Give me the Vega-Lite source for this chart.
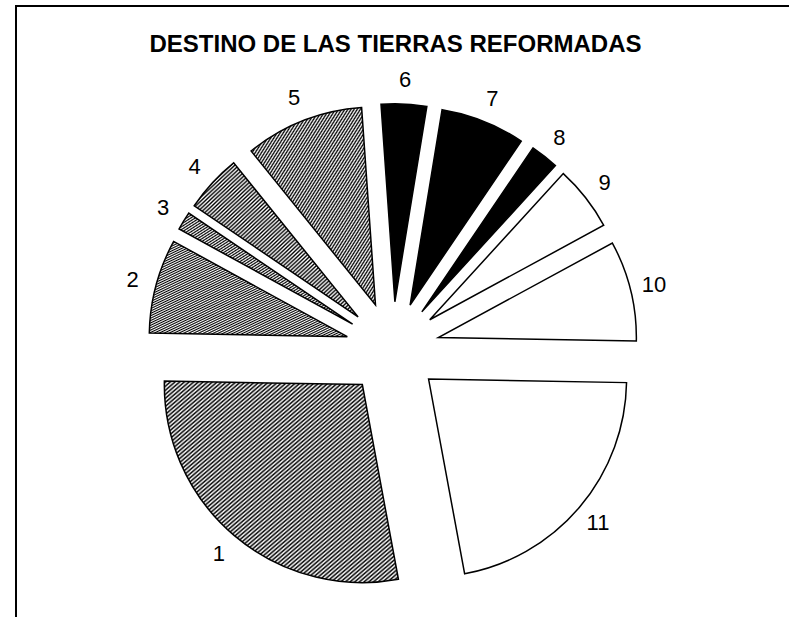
{
  "$schema": "https://vega.github.io/schema/vega-lite/v6.json",
  "width": 789,
  "height": 617,
  "autosize": "none",
  "padding": {"left": 16, "top": 6, "right": 0, "bottom": 0},
  "background": "white",
  "config": {"view": {"stroke": "black", "strokeWidth": 2}},
  "title": {"text": "DESTINO DE LAS TIERRAS REFORMADAS", "font": "Liberation Sans", "fontSize": 24, "fontWeight": "bold", "color": "black", "anchor": "middle", "frame": "group", "baseline": "alphabetic", "offset": 0, "dy": 70, "dx": -15},
  "data": {"values": [
    {"cat": 1, "pct": 28.2},
    {"cat": 2, "pct": 7.7},
    {"cat": 3, "pct": 1.5},
    {"cat": 4, "pct": 4.7},
    {"cat": 5, "pct": 9.7},
    {"cat": 6, "pct": 3.7},
    {"cat": 7, "pct": 6.9},
    {"cat": 8, "pct": 2.3},
    {"cat": 9, "pct": 5.3},
    {"cat": 10, "pct": 8.2},
    {"cat": 11, "pct": 21.8}
  ]},
  "transform": [
    {"stack": "pct", "groupby": [], "sort": [{"field": "cat", "order": "ascending"}], "as": ["v0", "v1"]},
    {"calculate": "(datum.v0 + datum.v1) / 2", "as": "vm"},
    {"calculate": "(169.5 + 3.6 * datum.vm) * PI / 180", "as": "mid"},
    {"calculate": "sin(datum.mid)", "as": "ex"},
    {"calculate": "cos(datum.mid)", "as": "ey"}
  ],
  "encoding": {
    "x": {"field": "ex", "type": "quantitative", "scale": {"domain": [-8.015, 8.772], "nice": false, "zero": false}, "axis": null},
    "y": {"field": "ey", "type": "quantitative", "scale": {"domain": [-5.836, 7.292], "nice": false, "zero": false}, "axis": null}
  },
  "layer": [
    {
      "mark": {"type": "arc", "radius": 198, "stroke": "black", "strokeWidth": 1.5},
      "encoding": {
        "theta": {"field": "v0", "type": "quantitative", "stack": null, "scale": {"domain": [0, 100], "range": [2.95833, 9.24152]}},
        "theta2": {"field": "v1"},
        "fill": {
          "condition": [
            {"test": "datum.cat == 1", "value": {"gradient": "linear", "x1": 0, "y1": 0, "x2": 1, "y2": 1, "stops": [
{"offset":0,"color":"#fff"},{"offset":0.005,"color":"#000"},{"offset":0.01,"color":"#fff"},{"offset":0.015,"color":"#000"},{"offset":0.02,"color":"#fff"},{"offset":0.025,"color":"#000"},{"offset":0.03,"color":"#fff"},{"offset":0.035,"color":"#000"},{"offset":0.04,"color":"#fff"},{"offset":0.045,"color":"#000"},
{"offset":0.05,"color":"#fff"},{"offset":0.055,"color":"#000"},{"offset":0.06,"color":"#fff"},{"offset":0.065,"color":"#000"},{"offset":0.07,"color":"#fff"},{"offset":0.075,"color":"#000"},{"offset":0.08,"color":"#fff"},{"offset":0.085,"color":"#000"},{"offset":0.09,"color":"#fff"},{"offset":0.095,"color":"#000"},
{"offset":0.1,"color":"#fff"},{"offset":0.105,"color":"#000"},{"offset":0.11,"color":"#fff"},{"offset":0.115,"color":"#000"},{"offset":0.12,"color":"#fff"},{"offset":0.125,"color":"#000"},{"offset":0.13,"color":"#fff"},{"offset":0.135,"color":"#000"},{"offset":0.14,"color":"#fff"},{"offset":0.145,"color":"#000"},
{"offset":0.15,"color":"#fff"},{"offset":0.155,"color":"#000"},{"offset":0.16,"color":"#fff"},{"offset":0.165,"color":"#000"},{"offset":0.17,"color":"#fff"},{"offset":0.175,"color":"#000"},{"offset":0.18,"color":"#fff"},{"offset":0.185,"color":"#000"},{"offset":0.19,"color":"#fff"},{"offset":0.195,"color":"#000"},
{"offset":0.2,"color":"#fff"},{"offset":0.205,"color":"#000"},{"offset":0.21,"color":"#fff"},{"offset":0.215,"color":"#000"},{"offset":0.22,"color":"#fff"},{"offset":0.225,"color":"#000"},{"offset":0.23,"color":"#fff"},{"offset":0.235,"color":"#000"},{"offset":0.24,"color":"#fff"},{"offset":0.245,"color":"#000"},
{"offset":0.25,"color":"#fff"},{"offset":0.255,"color":"#000"},{"offset":0.26,"color":"#fff"},{"offset":0.265,"color":"#000"},{"offset":0.27,"color":"#fff"},{"offset":0.275,"color":"#000"},{"offset":0.28,"color":"#fff"},{"offset":0.285,"color":"#000"},{"offset":0.29,"color":"#fff"},{"offset":0.295,"color":"#000"},
{"offset":0.3,"color":"#fff"},{"offset":0.305,"color":"#000"},{"offset":0.31,"color":"#fff"},{"offset":0.315,"color":"#000"},{"offset":0.32,"color":"#fff"},{"offset":0.325,"color":"#000"},{"offset":0.33,"color":"#fff"},{"offset":0.335,"color":"#000"},{"offset":0.34,"color":"#fff"},{"offset":0.345,"color":"#000"},
{"offset":0.35,"color":"#fff"},{"offset":0.355,"color":"#000"},{"offset":0.36,"color":"#fff"},{"offset":0.365,"color":"#000"},{"offset":0.37,"color":"#fff"},{"offset":0.375,"color":"#000"},{"offset":0.38,"color":"#fff"},{"offset":0.385,"color":"#000"},{"offset":0.39,"color":"#fff"},{"offset":0.395,"color":"#000"},
{"offset":0.4,"color":"#fff"},{"offset":0.405,"color":"#000"},{"offset":0.41,"color":"#fff"},{"offset":0.415,"color":"#000"},{"offset":0.42,"color":"#fff"},{"offset":0.425,"color":"#000"},{"offset":0.43,"color":"#fff"},{"offset":0.435,"color":"#000"},{"offset":0.44,"color":"#fff"},{"offset":0.445,"color":"#000"},
{"offset":0.45,"color":"#fff"},{"offset":0.455,"color":"#000"},{"offset":0.46,"color":"#fff"},{"offset":0.465,"color":"#000"},{"offset":0.47,"color":"#fff"},{"offset":0.475,"color":"#000"},{"offset":0.48,"color":"#fff"},{"offset":0.485,"color":"#000"},{"offset":0.49,"color":"#fff"},{"offset":0.495,"color":"#000"},
{"offset":0.5,"color":"#fff"},{"offset":0.505,"color":"#000"},{"offset":0.51,"color":"#fff"},{"offset":0.515,"color":"#000"},{"offset":0.52,"color":"#fff"},{"offset":0.525,"color":"#000"},{"offset":0.53,"color":"#fff"},{"offset":0.535,"color":"#000"},{"offset":0.54,"color":"#fff"},{"offset":0.545,"color":"#000"},
{"offset":0.55,"color":"#fff"},{"offset":0.555,"color":"#000"},{"offset":0.56,"color":"#fff"},{"offset":0.565,"color":"#000"},{"offset":0.57,"color":"#fff"},{"offset":0.575,"color":"#000"},{"offset":0.58,"color":"#fff"},{"offset":0.585,"color":"#000"},{"offset":0.59,"color":"#fff"},{"offset":0.595,"color":"#000"},
{"offset":0.6,"color":"#fff"},{"offset":0.605,"color":"#000"},{"offset":0.61,"color":"#fff"},{"offset":0.615,"color":"#000"},{"offset":0.62,"color":"#fff"},{"offset":0.625,"color":"#000"},{"offset":0.63,"color":"#fff"},{"offset":0.635,"color":"#000"},{"offset":0.64,"color":"#fff"},{"offset":0.645,"color":"#000"},
{"offset":0.65,"color":"#fff"},{"offset":0.655,"color":"#000"},{"offset":0.66,"color":"#fff"},{"offset":0.665,"color":"#000"},{"offset":0.67,"color":"#fff"},{"offset":0.675,"color":"#000"},{"offset":0.68,"color":"#fff"},{"offset":0.685,"color":"#000"},{"offset":0.69,"color":"#fff"},{"offset":0.695,"color":"#000"},
{"offset":0.7,"color":"#fff"},{"offset":0.705,"color":"#000"},{"offset":0.71,"color":"#fff"},{"offset":0.715,"color":"#000"},{"offset":0.72,"color":"#fff"},{"offset":0.725,"color":"#000"},{"offset":0.73,"color":"#fff"},{"offset":0.735,"color":"#000"},{"offset":0.74,"color":"#fff"},{"offset":0.745,"color":"#000"},
{"offset":0.75,"color":"#fff"},{"offset":0.755,"color":"#000"},{"offset":0.76,"color":"#fff"},{"offset":0.765,"color":"#000"},{"offset":0.77,"color":"#fff"},{"offset":0.775,"color":"#000"},{"offset":0.78,"color":"#fff"},{"offset":0.785,"color":"#000"},{"offset":0.79,"color":"#fff"},{"offset":0.795,"color":"#000"},
{"offset":0.8,"color":"#fff"},{"offset":0.805,"color":"#000"},{"offset":0.81,"color":"#fff"},{"offset":0.815,"color":"#000"},{"offset":0.82,"color":"#fff"},{"offset":0.825,"color":"#000"},{"offset":0.83,"color":"#fff"},{"offset":0.835,"color":"#000"},{"offset":0.84,"color":"#fff"},{"offset":0.845,"color":"#000"},
{"offset":0.85,"color":"#fff"},{"offset":0.855,"color":"#000"},{"offset":0.86,"color":"#fff"},{"offset":0.865,"color":"#000"},{"offset":0.87,"color":"#fff"},{"offset":0.875,"color":"#000"},{"offset":0.88,"color":"#fff"},{"offset":0.885,"color":"#000"},{"offset":0.89,"color":"#fff"},{"offset":0.895,"color":"#000"},
{"offset":0.9,"color":"#fff"},{"offset":0.905,"color":"#000"},{"offset":0.91,"color":"#fff"},{"offset":0.915,"color":"#000"},{"offset":0.92,"color":"#fff"},{"offset":0.925,"color":"#000"},{"offset":0.93,"color":"#fff"},{"offset":0.935,"color":"#000"},{"offset":0.94,"color":"#fff"},{"offset":0.945,"color":"#000"},
{"offset":0.95,"color":"#fff"},{"offset":0.955,"color":"#000"},{"offset":0.96,"color":"#fff"},{"offset":0.965,"color":"#000"},{"offset":0.97,"color":"#fff"},{"offset":0.975,"color":"#000"},{"offset":0.98,"color":"#fff"},{"offset":0.985,"color":"#000"},{"offset":0.99,"color":"#fff"},{"offset":0.995,"color":"#000"},
{"offset":1,"color":"#fff"}
            ]}},
            {"test": "datum.cat <= 5", "value": {"gradient": "linear", "x1": 0, "y1": 0, "x2": 1, "y2": 1, "stops": [
{"offset":0,"color":"#fff"},{"offset":0.00625,"color":"#000"},{"offset":0.0125,"color":"#fff"},{"offset":0.01875,"color":"#000"},{"offset":0.025,"color":"#fff"},{"offset":0.03125,"color":"#000"},{"offset":0.0375,"color":"#fff"},{"offset":0.04375,"color":"#000"},{"offset":0.05,"color":"#fff"},{"offset":0.05625,"color":"#000"},{"offset":0.0625,"color":"#fff"},{"offset":0.06875,"color":"#000"},{"offset":0.075,"color":"#fff"},{"offset":0.08125,"color":"#000"},{"offset":0.0875,"color":"#fff"},{"offset":0.09375,"color":"#000"},
{"offset":0.1,"color":"#fff"},{"offset":0.10625,"color":"#000"},{"offset":0.1125,"color":"#fff"},{"offset":0.11875,"color":"#000"},{"offset":0.125,"color":"#fff"},{"offset":0.13125,"color":"#000"},{"offset":0.1375,"color":"#fff"},{"offset":0.14375,"color":"#000"},{"offset":0.15,"color":"#fff"},{"offset":0.15625,"color":"#000"},{"offset":0.1625,"color":"#fff"},{"offset":0.16875,"color":"#000"},{"offset":0.175,"color":"#fff"},{"offset":0.18125,"color":"#000"},{"offset":0.1875,"color":"#fff"},{"offset":0.19375,"color":"#000"},
{"offset":0.2,"color":"#fff"},{"offset":0.20625,"color":"#000"},{"offset":0.2125,"color":"#fff"},{"offset":0.21875,"color":"#000"},{"offset":0.225,"color":"#fff"},{"offset":0.23125,"color":"#000"},{"offset":0.2375,"color":"#fff"},{"offset":0.24375,"color":"#000"},{"offset":0.25,"color":"#fff"},{"offset":0.25625,"color":"#000"},{"offset":0.2625,"color":"#fff"},{"offset":0.26875,"color":"#000"},{"offset":0.275,"color":"#fff"},{"offset":0.28125,"color":"#000"},{"offset":0.2875,"color":"#fff"},{"offset":0.29375,"color":"#000"},
{"offset":0.3,"color":"#fff"},{"offset":0.30625,"color":"#000"},{"offset":0.3125,"color":"#fff"},{"offset":0.31875,"color":"#000"},{"offset":0.325,"color":"#fff"},{"offset":0.33125,"color":"#000"},{"offset":0.3375,"color":"#fff"},{"offset":0.34375,"color":"#000"},{"offset":0.35,"color":"#fff"},{"offset":0.35625,"color":"#000"},{"offset":0.3625,"color":"#fff"},{"offset":0.36875,"color":"#000"},{"offset":0.375,"color":"#fff"},{"offset":0.38125,"color":"#000"},{"offset":0.3875,"color":"#fff"},{"offset":0.39375,"color":"#000"},
{"offset":0.4,"color":"#fff"},{"offset":0.40625,"color":"#000"},{"offset":0.4125,"color":"#fff"},{"offset":0.41875,"color":"#000"},{"offset":0.425,"color":"#fff"},{"offset":0.43125,"color":"#000"},{"offset":0.4375,"color":"#fff"},{"offset":0.44375,"color":"#000"},{"offset":0.45,"color":"#fff"},{"offset":0.45625,"color":"#000"},{"offset":0.4625,"color":"#fff"},{"offset":0.46875,"color":"#000"},{"offset":0.475,"color":"#fff"},{"offset":0.48125,"color":"#000"},{"offset":0.4875,"color":"#fff"},{"offset":0.49375,"color":"#000"},
{"offset":0.5,"color":"#fff"},{"offset":0.50625,"color":"#000"},{"offset":0.5125,"color":"#fff"},{"offset":0.51875,"color":"#000"},{"offset":0.525,"color":"#fff"},{"offset":0.53125,"color":"#000"},{"offset":0.5375,"color":"#fff"},{"offset":0.54375,"color":"#000"},{"offset":0.55,"color":"#fff"},{"offset":0.55625,"color":"#000"},{"offset":0.5625,"color":"#fff"},{"offset":0.56875,"color":"#000"},{"offset":0.575,"color":"#fff"},{"offset":0.58125,"color":"#000"},{"offset":0.5875,"color":"#fff"},{"offset":0.59375,"color":"#000"},
{"offset":0.6,"color":"#fff"},{"offset":0.60625,"color":"#000"},{"offset":0.6125,"color":"#fff"},{"offset":0.61875,"color":"#000"},{"offset":0.625,"color":"#fff"},{"offset":0.63125,"color":"#000"},{"offset":0.6375,"color":"#fff"},{"offset":0.64375,"color":"#000"},{"offset":0.65,"color":"#fff"},{"offset":0.65625,"color":"#000"},{"offset":0.6625,"color":"#fff"},{"offset":0.66875,"color":"#000"},{"offset":0.675,"color":"#fff"},{"offset":0.68125,"color":"#000"},{"offset":0.6875,"color":"#fff"},{"offset":0.69375,"color":"#000"},
{"offset":0.7,"color":"#fff"},{"offset":0.70625,"color":"#000"},{"offset":0.7125,"color":"#fff"},{"offset":0.71875,"color":"#000"},{"offset":0.725,"color":"#fff"},{"offset":0.73125,"color":"#000"},{"offset":0.7375,"color":"#fff"},{"offset":0.74375,"color":"#000"},{"offset":0.75,"color":"#fff"},{"offset":0.75625,"color":"#000"},{"offset":0.7625,"color":"#fff"},{"offset":0.76875,"color":"#000"},{"offset":0.775,"color":"#fff"},{"offset":0.78125,"color":"#000"},{"offset":0.7875,"color":"#fff"},{"offset":0.79375,"color":"#000"},
{"offset":0.8,"color":"#fff"},{"offset":0.80625,"color":"#000"},{"offset":0.8125,"color":"#fff"},{"offset":0.81875,"color":"#000"},{"offset":0.825,"color":"#fff"},{"offset":0.83125,"color":"#000"},{"offset":0.8375,"color":"#fff"},{"offset":0.84375,"color":"#000"},{"offset":0.85,"color":"#fff"},{"offset":0.85625,"color":"#000"},{"offset":0.8625,"color":"#fff"},{"offset":0.86875,"color":"#000"},{"offset":0.875,"color":"#fff"},{"offset":0.88125,"color":"#000"},{"offset":0.8875,"color":"#fff"},{"offset":0.89375,"color":"#000"},
{"offset":0.9,"color":"#fff"},{"offset":0.90625,"color":"#000"},{"offset":0.9125,"color":"#fff"},{"offset":0.91875,"color":"#000"},{"offset":0.925,"color":"#fff"},{"offset":0.93125,"color":"#000"},{"offset":0.9375,"color":"#fff"},{"offset":0.94375,"color":"#000"},{"offset":0.95,"color":"#fff"},{"offset":0.95625,"color":"#000"},{"offset":0.9625,"color":"#fff"},{"offset":0.96875,"color":"#000"},{"offset":0.975,"color":"#fff"},{"offset":0.98125,"color":"#000"},{"offset":0.9875,"color":"#fff"},{"offset":0.99375,"color":"#000"},
{"offset":1,"color":"#fff"}
            ]}},
            {"test": "datum.cat <= 8", "value": "black"}
          ],
          "value": "white"
        }
      }
    },
    {
      "mark": {"type": "text", "radius": 222, "font": "Liberation Sans", "fontSize": 22, "align": "center", "baseline": "middle", "color": "black"},
      "encoding": {
        "theta": {"field": "vm", "type": "quantitative", "stack": null, "scale": {"domain": [0, 100], "range": [2.95833, 9.24152]}},
        "text": {"field": "cat", "type": "nominal"}
      }
    }
  ]
}
